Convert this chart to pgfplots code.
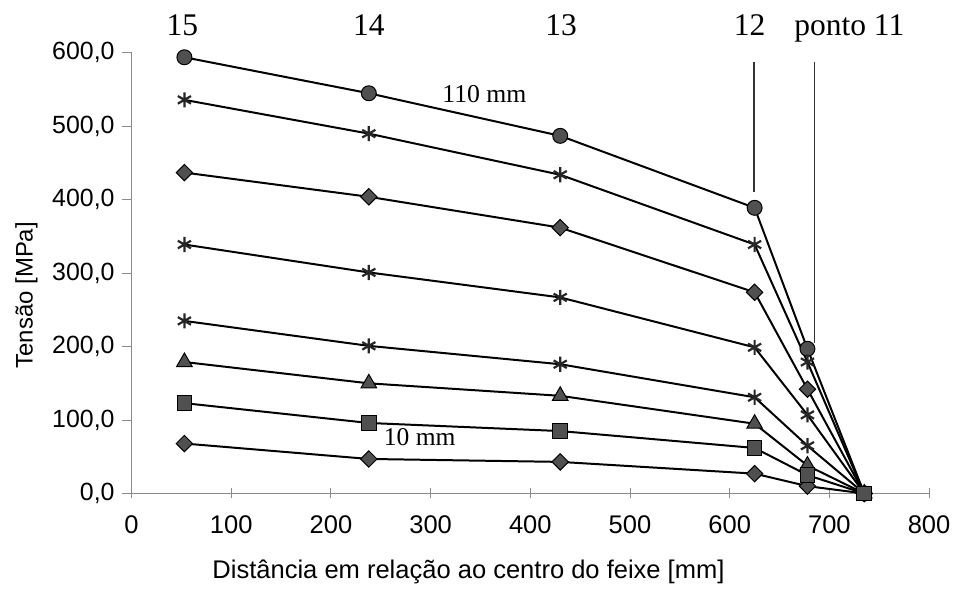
\documentclass[border=0pt]{standalone}
\usepackage{pgfplots}
\pgfplotsset{compat=1.18}
\usepackage{fontspec}
\setmainfont{Liberation Sans}
\newfontfamily\seriffont{Liberation Serif}
\definecolor{mk}{HTML}{505050}
\definecolor{ax}{HTML}{8A8A8A}
\begin{document}
\begin{tikzpicture}
\begin{axis}[
  scale only axis, width=400pt, height=221pt,
  xmin=0, xmax=800, ymin=0, ymax=600,
  axis x line=bottom, axis y line=left,
  axis line style={draw=ax, line width=0.5pt, -},
  xtick={0,100,...,800}, ytick={0,100,...,600},
  major tick length=5pt,
  xtick align=center, ytick align=outside,
  tick style={draw=ax, line width=0.5pt},
  /pgf/number format/.cd, fixed, fixed zerofill, precision=1, use comma, assume math mode=true, /pgfplots/.cd,
  xticklabel={\pgfmathprintnumber[fixed, precision=0, assume math mode=true]{\tick}},
  xticklabel style={font=\fontsize{12.8}{14}\selectfont, yshift=-5pt},
  yticklabel style={font=\fontsize{12.5}{14}\selectfont},
  xlabel={Distância em relação ao centro do feixe [mm]},
  xlabel style={at={(axis description cs:0.4225,-0.192)}, anchor=base, font=\fontsize{12.8}{15}\selectfont},
  ylabel={Tensão [MPa]},
  ylabel style={at={(axis description cs:-0.124,0.45)}, anchor=base, rotate=0, font=\fontsize{12}{14}\selectfont},
  clip=false,
  every axis plot/.append style={line width=1pt, draw=black},
]
% bounding box
\path (axis description cs:-0.165,-0.206) (axis description cs:1.031,1.12);
% annotation lines
\addplot[no marks, line width=0.9pt, draw=black!80] coordinates {(624,588) (624,411)};
\addplot[no marks, line width=0.9pt, draw=black!80] coordinates {(685,588) (685,205)};
% series
\addplot[mark=*, mark size=3.75pt, mark options={fill=mk, draw=black, line width=0.5pt}] coordinates {
(53,594) (238,545) (430,487) (625,389) (678,197) (735,0)};
\addplot[mark=asterisk, mark size=3.8pt, mark options={draw=black!85, line width=1.1pt}] coordinates {
(53,536) (238,490) (430,434) (625,339) (678,179) (735,0)};
\addplot[mark=square*, mark size=2.9pt, mark options={rotate=45, fill=mk, draw=black, line width=0.5pt}] coordinates {
(53,437) (238,404) (430,362) (625,274) (678,142) (735,0)};
\addplot[mark=asterisk, mark size=3.8pt, mark options={draw=black!85, line width=1.1pt}] coordinates {
(53,339) (238,301) (430,267) (625,199) (678,107) (735,0)};
\addplot[mark=asterisk, mark size=3.8pt, mark options={draw=black!85, line width=1.1pt}] coordinates {
(53,235) (238,201) (430,176) (625,131) (678,65) (735,0)};
\addplot[mark=triangle*, mark size=4.5pt, mark options={fill=mk, draw=black, line width=0.5pt}] coordinates {
(53,179) (238,150) (430,133) (625,95) (678,38) (735,0)};
\addplot[mark=square*, mark size=2.9pt, mark options={rotate=45, fill=mk, draw=black, line width=0.5pt}] coordinates {
(53,68) (238,47) (430,43) (625,27) (678,10) (735,0)};
\addplot[mark=square*, mark size=3.7pt, mark options={fill=mk, draw=black, line width=0.5pt}] coordinates {
(53,123) (238,96) (430,85) (625,62) (678,25) (735,0)};
% text annotations
\node[anchor=base, font=\seriffont\fontsize{15.8}{18}\selectfont] at (axis cs:51,623) {15};
\node[anchor=base, font=\seriffont\fontsize{15.8}{18}\selectfont] at (axis cs:238,623) {14};
\node[anchor=base, font=\seriffont\fontsize{15.8}{18}\selectfont] at (axis cs:431,623) {13};
\node[anchor=base, font=\seriffont\fontsize{15.8}{18}\selectfont] at (axis cs:620,623) {12};
\node[anchor=base, font=\seriffont\fontsize{15.8}{18}\selectfont] at (axis cs:720,623) {ponto 11};
\node[anchor=base, font=\seriffont\fontsize{12.9}{15}\selectfont] at (axis cs:354,532) {110 mm};
\node[anchor=base, font=\seriffont\fontsize{12.8}{15}\selectfont] at (axis cs:289,65) {10 mm};
\end{axis}
\end{tikzpicture}
\end{document}
